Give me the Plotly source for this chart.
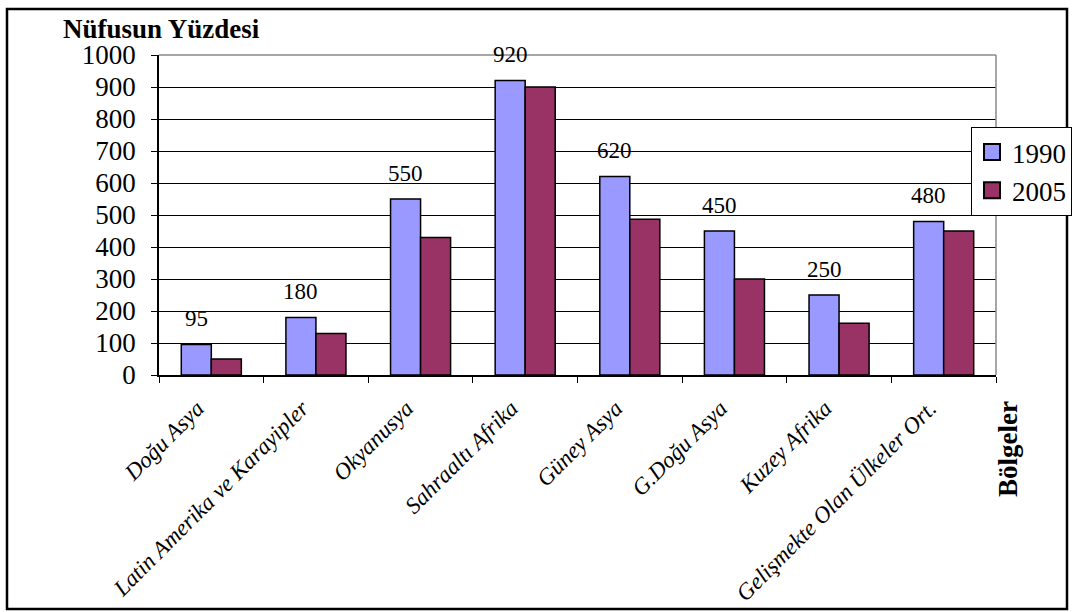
import plotly.graph_objects as go

categories = ["Doğu Asya", "Latin Amerika ve Karayipler", "Okyanusya", "Sahraaltı Afrika",
              "Güney Asya", "G.Doğu Asya", "Kuzey Afrika", "Gelişmekte Olan Ülkeler Ort."]
values_1990 = [95, 180, 550, 920, 620, 450, 250, 480]
values_2005 = [50, 130, 430, 900, 487, 300, 162, 450]
series_names = ["1990", "2005"]
y_ticks = [0, 100, 200, 300, 400, 500, 600, 700, 800, 900, 1000]

W, H = 1073, 612
L, R, T, B = 159, 996, 55, 375  # plot area in pixels
pw, ph = R - L, B - T

def px(x):
    return (x - L) / pw

def py(y):
    return (B - y) / ph

FONT = "Liberation Serif, Times New Roman, serif"
c1990 = "#9999FF"
c2005 = "#993366"

fig = go.Figure()
fig.add_trace(go.Bar(x=categories, y=values_1990, name=series_names[0], marker=dict(color=c1990, line=dict(color="black", width=1.5)), showlegend=False))
fig.add_trace(go.Bar(x=categories, y=values_2005, name=series_names[1], marker=dict(color=c2005, line=dict(color="black", width=1.5)), showlegend=False))
# legend proxies
fig.add_trace(go.Scatter(x=[None], y=[None], mode="markers", name=series_names[0],
                         marker=dict(symbol="square", size=18, color=c1990, line=dict(color="black", width=2))))
fig.add_trace(go.Scatter(x=[None], y=[None], mode="markers", name=series_names[1],
                         marker=dict(symbol="square", size=18, color=c2005, line=dict(color="black", width=2))))

annotations = []
for c, v in zip(categories, values_1990):
    annotations.append(dict(x=c, y=v, xref="x", yref="y", text=str(v), showarrow=False,
                            xshift=-15, yshift=26, yanchor="middle",
                            font=dict(family=FONT, size=23, color="black")))
annotations.append(dict(x=px(61), y=py(29), xref="paper", yref="paper", xanchor="left", yanchor="middle",
                        text="<b>Nüfusun Yüzdesi</b>", showarrow=False,
                        font=dict(family=FONT, size=27, color="black")))
annotations.append(dict(x=px(1008), y=py(449), xref="paper", yref="paper", xanchor="center", yanchor="middle",
                        text="<b>Bölgeler</b>", textangle=-90, showarrow=False,
                        font=dict(family=FONT, size=27, color="black")))

shapes = [
    dict(type="rect", xref="paper", yref="paper", x0=px(7), x1=px(1067), y0=py(609), y1=py(9),
         line=dict(color="black", width=2.5), fillcolor="rgba(0,0,0,0)", layer="above"),
    dict(type="line", xref="paper", yref="paper", x0=0, x1=1, y0=1, y1=1, line=dict(color="#888888", width=1.5), layer="above"),
    dict(type="line", xref="paper", yref="paper", x0=1, x1=1, y0=0, y1=1, line=dict(color="#888888", width=1.5), layer="above"),
]

fig.update_layout(
    width=W, height=H,
    margin=dict(l=L, r=W - R, t=T, b=H - B, autoexpand=False),
    paper_bgcolor="white", plot_bgcolor="white",
    barmode="group", bargap=0.426, bargroupgap=0,
    font=dict(family=FONT, color="black"),
    showlegend=True,
    legend=dict(x=px(971), y=py(127), xanchor="left", yanchor="top",
                bgcolor="white", bordercolor="black", borderwidth=1,
                font=dict(family=FONT, size=27, color="black"),
                tracegroupgap=0, itemsizing="trace"),
    annotations=annotations,
    shapes=shapes,
    xaxis=dict(type="category", showline=True, linecolor="black", linewidth=1.5,
               ticks="outside", tickson="boundaries", ticklen=6, tickcolor="black",
               tickangle=-45, showgrid=False, ticklabelshift=-14, ticklabelstandoff=9,
               tickfont=dict(family=FONT, size=23, style="italic", color="black")),
    yaxis=dict(range=[0, 1000], tickvals=y_ticks, showline=True, linecolor="black", linewidth=1.5,
               ticks="outside", ticklen=6, tickcolor="black", ticklabelstandoff=10,
               showgrid=True, gridcolor="black", gridwidth=1, zeroline=False,
               tickfont=dict(family=FONT, size=27, color="black")),
)

fig.write_html("out.html", config={"displayModeBar": False},
               post_script="document.body.style.margin='0';document.body.style.overflow='hidden';")
